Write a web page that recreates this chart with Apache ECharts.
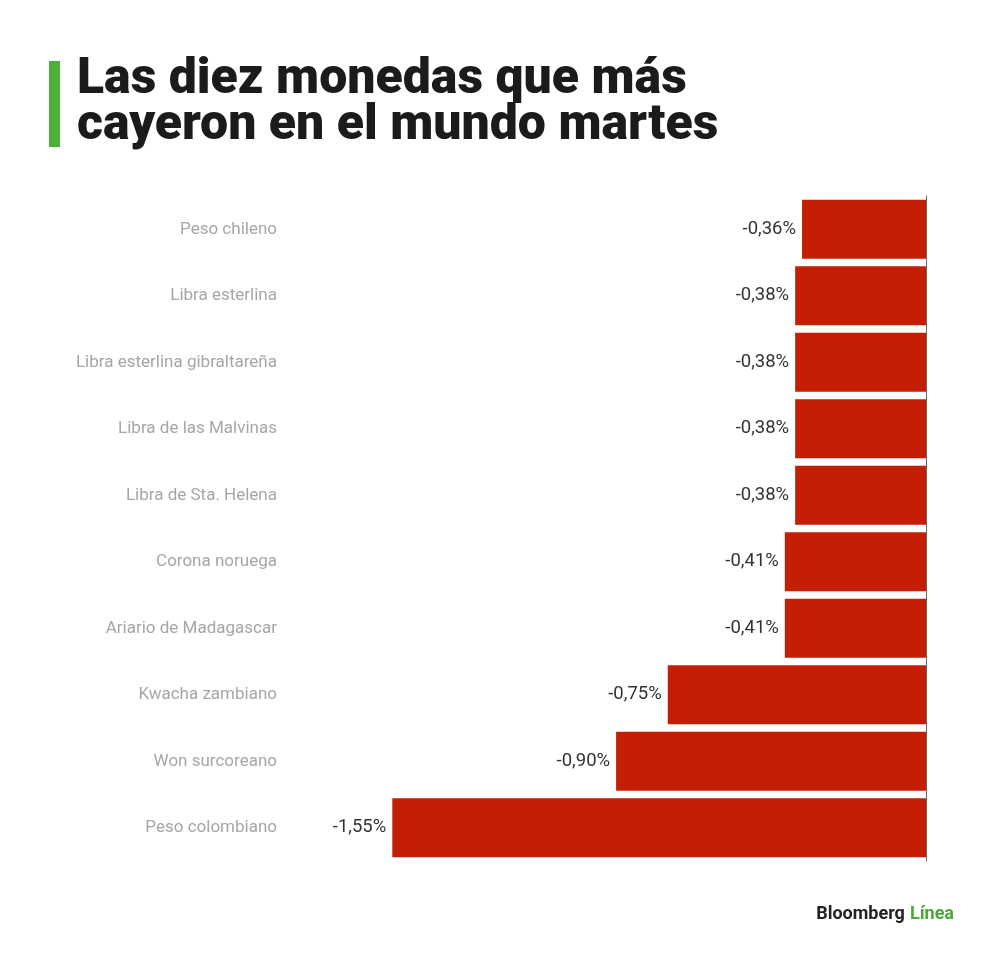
<!DOCTYPE html>
<html>
<head>
<meta charset="utf-8">
<script src="https://cdn.jsdelivr.net/npm/echarts@6/dist/echarts.min.js"></script>
<style>
html,body{margin:0;padding:0;background:#fff;}
#main{width:1000px;height:954px;}
</style>
</head>
<body>
<div id="main"></div>
<script>
const categories = [
  "Peso chileno",
  "Libra esterlina",
  "Libra esterlina gibraltareña",
  "Libra de las Malvinas",
  "Libra de Sta. Helena",
  "Corona noruega",
  "Ariario de Madagascar",
  "Kwacha zambiano",
  "Won surcoreano",
  "Peso colombiano"
];
const changes = [-0.36, -0.38, -0.38, -0.38, -0.38, -0.41, -0.41, -0.75, -0.90, -1.55];
const titleText = "Las diez monedas que más\ncayeron en el mundo martes";

const chart = echarts.init(document.getElementById('main'), null, {renderer: 'canvas'});
chart.setOption({
  backgroundColor: '#ffffff',
  animation: false,
  title: [
    {
      text: titleText,
      left: 72,
      top: 52,
      textStyle: {fontFamily: 'Roboto', fontWeight: 900, fontSize: 50, lineHeight: 46, color: '#1b1b1b'}
    },
    {
      text: '{a|Bloomberg} {b|Línea}',
      right: 41,
      top: 900,
      textStyle: {
        rich: {
          a: {fontFamily: 'Roboto', fontWeight: 'bold', fontSize: 18, color: '#222222'},
          b: {fontFamily: 'Roboto', fontWeight: 'bold', fontSize: 18, color: '#4aa838'}
        }
      }
    }
  ],
  graphic: [
    {type: 'rect', left: 49, top: 61, shape: {width: 11, height: 86}, style: {fill: '#4caf3a'}}
  ],
  grid: {left: 289, right: 74, top: 196, bottom: 93},
  xAxis: {
    type: 'value', min: -1.85, max: 0,
    show: false
  },
  yAxis: [
    {
      type: 'category', data: categories, inverse: true,
      axisLine: {show: false}, axisTick: {show: false}, splitLine: {show: false},
      axisLabel: {margin: 12, fontFamily: 'Roboto', fontSize: 17, color: '#a6a6a6'}
    },
    {
      type: 'category', data: categories, inverse: true, position: 'right',
      axisLine: {show: true, lineStyle: {color: '#666666', width: 1}},
      axisTick: {show: false}, axisLabel: {show: false}, splitLine: {show: false}
    }
  ],
  series: [{
    type: 'bar',
    data: changes,
    barCategoryGap: '11%',
    itemStyle: {color: '#c41e05'},
    label: {
      show: true, position: 'left', distance: 6,
      fontFamily: 'Roboto', fontSize: 18.5, color: '#333333',
      formatter: p => p.value.toFixed(2).replace('.', ',') + '%'
    }
  }]
});
</script>
</body>
</html>
